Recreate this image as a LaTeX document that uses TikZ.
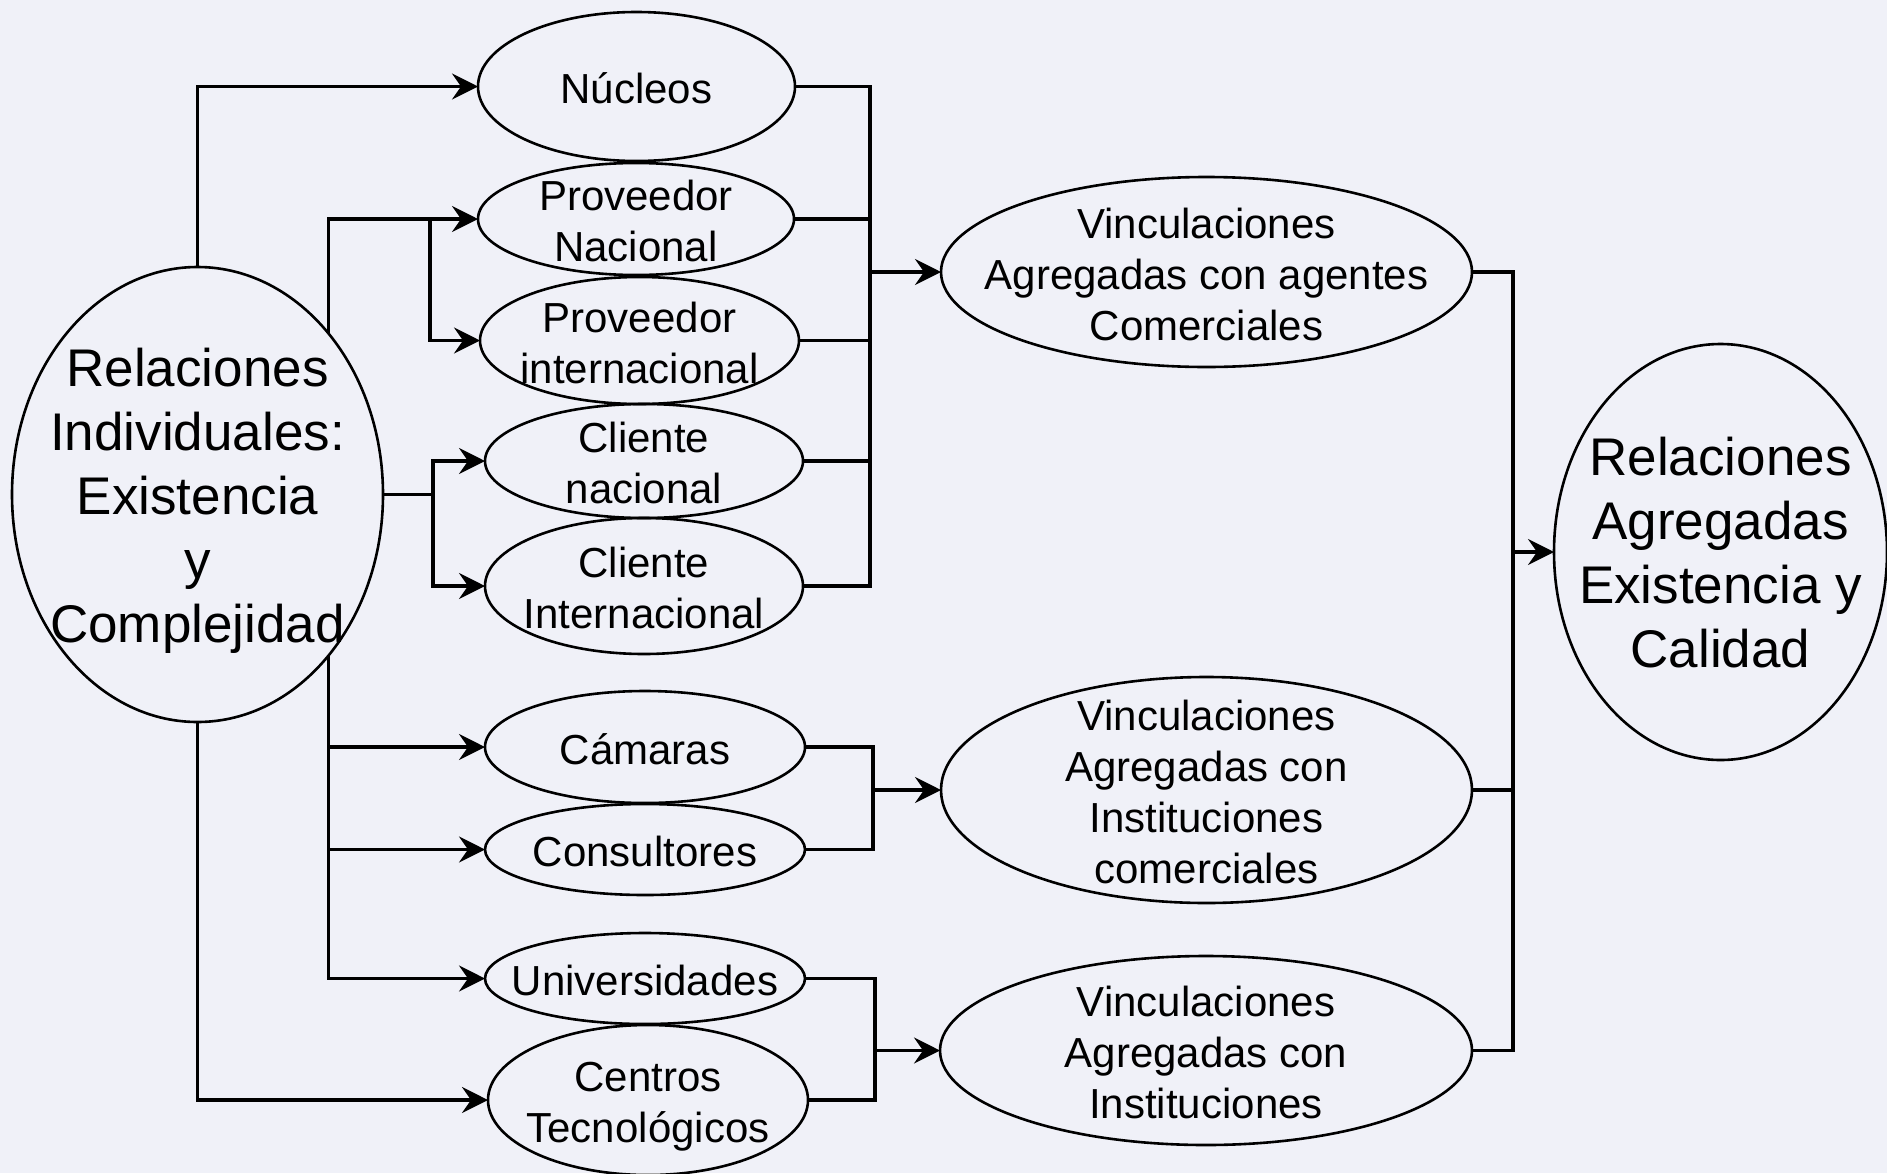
\documentclass[tikz,border=0pt]{standalone}
\usepackage{fontspec}
\setmainfont{Liberation Sans}
\usetikzlibrary{arrows.meta, shapes.geometric}
\definecolor{bgpanel}{RGB}{240,241,248}
\newcommand{\ovaltext}[2][-.31em]{\makebox[0pt]{\raisebox{#1}[0pt][0pt]{\begin{tabular}{@{}c@{}}#2\end{tabular}}}}

\begin{document}
\begin{tikzpicture}[x=1pt, y=-1pt,
  oval/.style={ellipse, draw, line width=2.6pt, inner sep=0pt, outer sep=0pt, font=\fontsize{42}{51}\selectfont},
  bigoval/.style={oval, font=\fontsize{53}{64}\selectfont},
  wire/.style={line width=3.2pt},
  feed/.style={wire, -{Stealth[length=26pt, width=26pt, inset=9pt]}}]
  \fill[bgpanel] (0,0) rectangle (1887,1173);
  \useasboundingbox (0,0) rectangle (1887,1173);

  % left and right ends
  \node[bigoval, minimum width=371pt, minimum height=455pt] (indiv) at (197.5,494.5) {\ovaltext[-.25em]{Relaciones\\Individuales:\\Existencia\\y\\Complejidad}};
  \node[bigoval, minimum width=333pt, minimum height=416pt] (ragr) at (1720.5,552) {\ovaltext[-.25em]{Relaciones\\Agregadas\\Existencia y\\Calidad}};

  % individual relations
  \node[oval, minimum width=317pt, minimum height=149pt] (nuc) at (636.5,86.5) {\ovaltext{Núcleos}};
  \node[oval, minimum width=316pt, minimum height=112pt] (pnac) at (636,219) {\ovaltext{Proveedor\\Nacional}};
  \node[oval, minimum width=319pt, minimum height=127pt] (pint) at (639.5,340.5) {\ovaltext{Proveedor\\internacional}};
  \node[oval, minimum width=318pt, minimum height=114pt] (cnac) at (644,461) {\ovaltext{Cliente\\nacional}};
  \node[oval, minimum width=318pt, minimum height=136pt] (cint) at (644,586) {\ovaltext{Cliente\\Internacional}};
  \node[oval, minimum width=320pt, minimum height=112pt] (cam) at (645,747) {\ovaltext{Cámaras}};
  \node[oval, minimum width=320pt, minimum height=91pt] (cons) at (645,849.5) {\ovaltext{Consultores}};
  \node[oval, minimum width=320pt, minimum height=91pt] (univ) at (645,978.5) {\ovaltext{Universidades}};
  \node[oval, minimum width=320pt, minimum height=150pt] (ctec) at (648,1100) {\ovaltext{Centros\\Tecnológicos}};

  % aggregated links
  \node[oval, minimum width=531pt, minimum height=190pt] (vcom) at (1206.5,272) {\ovaltext{Vinculaciones\\Agregadas con agentes\\Comerciales}};
  \node[oval, minimum width=531pt, minimum height=226pt] (vinc) at (1206.5,790) {\ovaltext{Vinculaciones\\Agregadas con\\Instituciones\\comerciales}};
  \node[oval, minimum width=532pt, minimum height=189pt] (vins) at (1206,1050.5) {\ovaltext{Vinculaciones\\Agregadas con\\Instituciones}};

  \coordinate (splitP) at (430,219);
  \coordinate (splitC) at (433,494.5);
  \coordinate (busA) at (870,272);
  \coordinate (busB) at (873,790);
  \coordinate (busC) at (875,1050.5);
  \coordinate (busD) at (1513,552);

  % fan out
  \draw[feed] (indiv.north) |- (nuc.west);
  \draw[feed] (indiv.51.5) |- (pnac.west);
  \draw[feed] (splitP) |- (pint.west);
  \draw[wire] (indiv.east) -- (splitC);
  \draw[feed] (splitC) |- (cnac.west);
  \draw[feed] (splitC) |- (cint.west);
  \draw[feed] (indiv.-51.5) |- (univ.west);
  \foreach \n in {cam,cons}
    \draw[feed] (indiv.-51.5 |- \n.west) -- (\n.west);
  \draw[feed] (indiv.south) |- (ctec.west);

  % fan in
  \foreach \n in {nuc,pnac,pint,cnac,cint}
    \draw[wire] (\n.east) -| (busA);
  \draw[feed] (busA) -- (vcom.west);
  \foreach \n in {cam,cons}
    \draw[wire] (\n.east) -| (busB);
  \draw[feed] (busB) -- (vinc.west);
  \foreach \n in {univ,ctec}
    \draw[wire] (\n.east) -| (busC);
  \draw[feed] (busC) -- (vins.west);
  \foreach \n in {vcom,vinc,vins}
    \draw[wire] (\n.east) -| (busD);
  \draw[feed] (busD) -- (ragr.west);
\end{tikzpicture}
\end{document}
